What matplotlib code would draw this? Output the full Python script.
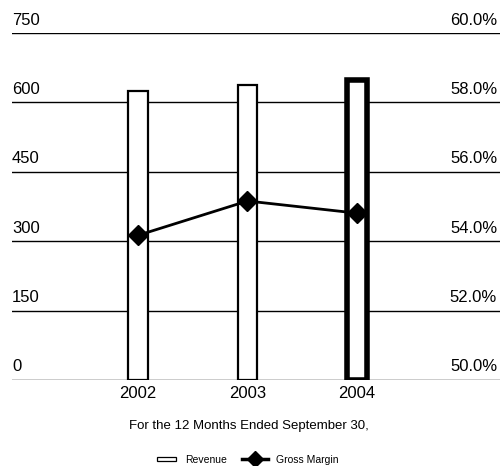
import matplotlib.pyplot as plt
from matplotlib.lines import Line2D
from matplotlib.patches import Patch, Rectangle
from matplotlib.legend_handler import HandlerPatch

years = ['2002', '2003', '2004']
revenue = [624, 637, 648]
gross_margin = [54.17, 55.16, 54.81]
rev_ticks = [0, 150, 300, 450, 600, 750]
gm_ticks = [50.0, 52.0, 54.0, 56.0, 58.0, 60.0]

plt.rcParams['font.family'] = ['Liberation Sans', 'DejaVu Sans']

fig = plt.figure(figsize=(5, 4.66), dpi=100)
ax = fig.add_axes([0.024, 0.1845, 0.976, 0.7445])
x = list(range(len(years)))

# gridlines behind the bars
for t in rev_ticks:
    ax.axhline(t, color='black', lw=1.0, zorder=1)

edges = [1.6, 1.6, 4.0]
ax.bar(x, revenue, width=0.18, color='white', edgecolor='black',
       linewidth=edges, zorder=2)
ax.set_ylim(0, 750)
ax.set_xlim(-1.15, 3.306)

ax2 = ax.twinx()
ax2.plot(x, gross_margin, color='black', lw=2, marker='D', markersize=10, zorder=5)
ax2.set_ylim(50, 60)
ax2.set_xlim(-1.15, 3.306)

for a in (ax, ax2):
    a.set_xticks([])
    a.set_yticks([])
    for s in a.spines.values():
        s.set_visible(False)

for t in rev_ticks:
    ax.text(0.0, t + 12, str(t), transform=ax.get_yaxis_transform(),
            ha='left', va='bottom', fontsize=12)
for t in gm_ticks:
    ax2.text(0.994, t + 0.16, '%.1f%%' % t, transform=ax2.get_yaxis_transform(),
             ha='right', va='bottom', fontsize=12)

for xi, y in zip(x, years):
    ax.text(xi, -14, y, ha='center', va='top', fontsize=12)

fig.text(0.498, 0.086, 'For the 12 Months Ended September 30,',
         ha='center', va='center', fontsize=9.5)


# revenue box in legend is a bit narrower than the line handle
def small_box(legend, orig_handle, xdescent, ydescent, width, height, fontsize):
    w = width * 0.73
    return Rectangle((xdescent + width - w, ydescent + height * 0.2), w, height * 0.6)


handles = [Patch(facecolor='white', edgecolor='black', linewidth=0.9),
           Line2D([0], [0], color='black', lw=2.5, marker='D', markersize=8)]
fig.legend(handles, ['Revenue', 'Gross Margin'], loc='center',
           bbox_to_anchor=(0.489, 0.013), ncol=2, frameon=False, fontsize=7.5,
           handlelength=2.5, handleheight=0.7, columnspacing=1.45, handletextpad=0.8,
           borderpad=0, handler_map={Patch: HandlerPatch(patch_func=small_box)})

fig.savefig('out.png', dpi=100)
